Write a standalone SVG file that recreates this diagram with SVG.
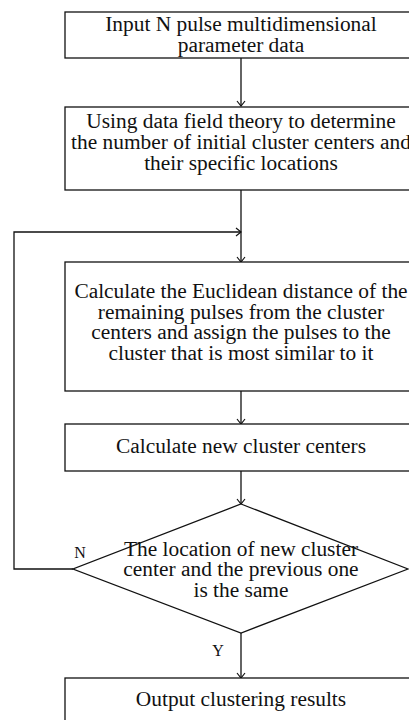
<svg xmlns="http://www.w3.org/2000/svg" width="409" height="720" viewBox="0 0 409 720">
<style>
.box{fill:#fff;stroke:#111;stroke-width:1.3}
.ln{fill:none;stroke:#111;stroke-width:1.3}
.t{font-family:"Liberation Serif","Times New Roman",serif;font-size:20px;fill:#111;text-anchor:middle}
.lab{font-family:"Liberation Serif","Times New Roman",serif;font-size:16px;fill:#111;text-anchor:middle}
</style>
<defs>
<marker id="arr" markerWidth="10" markerHeight="10" refX="6" refY="5" orient="auto" markerUnits="userSpaceOnUse">
<path d="M1,1 L6,5 L1,9" fill="none" stroke="#111" stroke-width="1.2"/>
</marker>
</defs>
<rect width="409" height="720" fill="#fff"/>
<g id="connectors">
<line class="ln" x1="241" y1="58" x2="241" y2="106" marker-end="url(#arr)"/>
<line class="ln" x1="241" y1="190" x2="241" y2="262" marker-end="url(#arr)"/>
<polyline class="ln" points="73,569 14,569 14,232 241,232" marker-end="url(#arr)"/>
<line class="ln" x1="241" y1="391" x2="241" y2="424" marker-end="url(#arr)"/>
<line class="ln" x1="241" y1="471" x2="241" y2="504" marker-end="url(#arr)"/>
<line class="ln" x1="241" y1="633" x2="241" y2="678" marker-end="url(#arr)"/>
<text class="lab" x="80" y="558">N</text>
<text class="lab" x="218" y="656">Y</text>
</g>
<g id="n1">
<rect class="box" x="65" y="12" width="360" height="46"/>
<g transform="translate(241,0) scale(1.07,1) translate(-241,0)">
<text class="t" x="241" y="31">Input N pulse multidimensional</text>
<text class="t" x="241" y="52">parameter data</text>
</g>
</g>
<g id="n2">
<rect class="box" x="65" y="107" width="360" height="83"/>
<g transform="translate(241,0) scale(1.07,1) translate(-241,0)">
<text class="t" x="241" y="128.5">Using data field theory to determine</text>
<text class="t" x="241" y="149.5">the number of initial cluster centers and</text>
<text class="t" x="241" y="170.5">their specific locations</text>
</g>
</g>
<g id="n3">
<rect class="box" x="65" y="262" width="360" height="129"/>
<g transform="translate(241,0) scale(1.07,1) translate(-241,0)">
<text class="t" x="241" y="298">Calculate the Euclidean distance of the</text>
<text class="t" x="241" y="318.7">remaining pulses from the cluster</text>
<text class="t" x="241" y="339.3">centers and assign the pulses to the</text>
<text class="t" x="241" y="360">cluster that is most similar to it</text>
</g>
</g>
<g id="n4">
<rect class="box" x="65" y="424" width="360" height="47"/>
<g transform="translate(241,0) scale(1.07,1) translate(-241,0)">
<text class="t" x="241" y="452.7">Calculate new cluster centers</text>
</g>
</g>
<g id="n5">
<polygon class="box" points="241,504 408,569 241,633 73,569"/>
<g transform="translate(241,0) scale(1.07,1) translate(-241,0)">
<text class="t" x="241" y="556">The location of new cluster</text>
<text class="t" x="241" y="576.5">center and the previous one</text>
<text class="t" x="241" y="597">is the same</text>
</g>
</g>
<g id="n6">
<rect class="box" x="65" y="678" width="360" height="60"/>
<g transform="translate(241,0) scale(1.07,1) translate(-241,0)">
<text class="t" x="241" y="706">Output clustering results</text>
</g>
</g>
</svg>
